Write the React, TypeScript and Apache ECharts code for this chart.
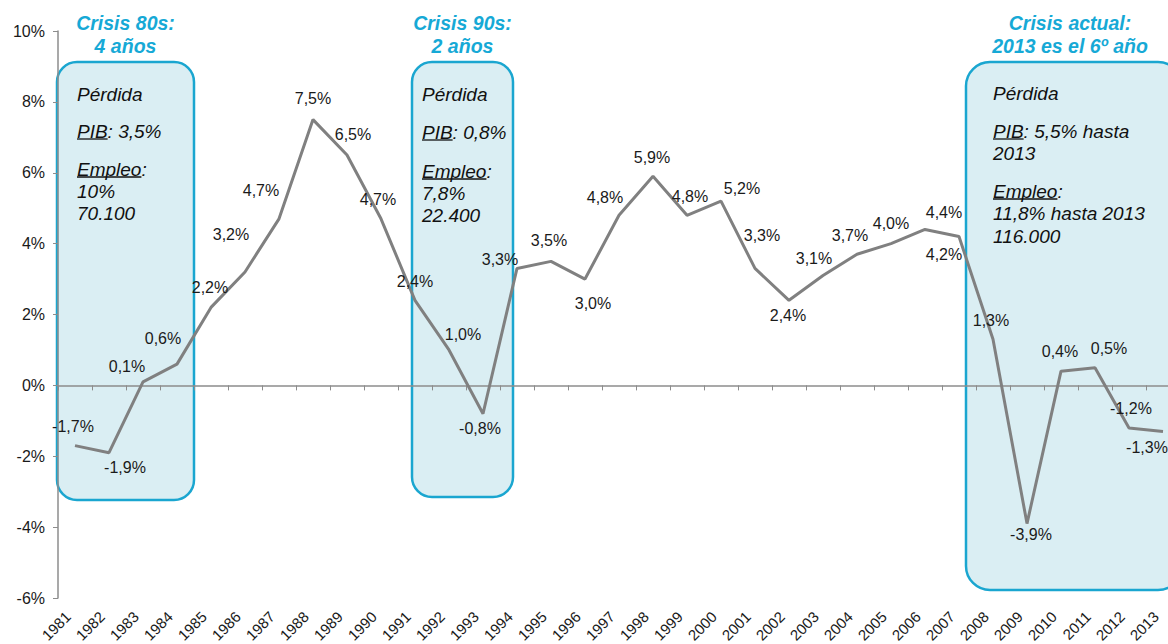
import React, { useEffect, useRef } from "react";
import * as echarts from "echarts";

const years = [
  "1981", "1982", "1983", "1984", "1985", "1986", "1987", "1988", "1989", "1990",
  "1991", "1992", "1993", "1994", "1995", "1996", "1997", "1998", "1999", "2000",
  "2001", "2002", "2003", "2004", "2005", "2006", "2007", "2008", "2009", "2010",
  "2011", "2012", "2013",
];

const gdpGrowth = [
  -1.7, -1.9, 0.1, 0.6, 2.2, 3.2, 4.7, 7.5, 6.5, 4.7,
  2.4, 1.0, -0.8, 3.3, 3.5, 3.0, 4.8, 5.9, 4.8, 5.2,
  3.3, 2.4, 3.1, 3.7, 4.0, 4.4, 4.2, 1.3, -3.9, 0.4,
  0.5, -1.2, -1.3,
];

const yMin = -6;
const yMax = 10;
const yStep = 2;

// label placement (dx, dy) relative to each point
const labelOffsets: [number, number][] = [
  [-2, -19], [16, 15], [-16, -15], [-14, -26], [-1, -20], [-14, -37], [-18, -28], [0, -21], [6, -21], [-3, -19],
  [0, -19], [14, -15], [-3, 15], [-17, -9], [-2, -21], [8, 24], [-14, -18], [-1, -19], [3, -19], [21, -13],
  [7, -33], [-1, 15], [-9, -17], [-7, -19], [0, -20], [19, -17], [-15, 18], [-2, -19], [4, 11], [-1, -20],
  [14, -19], [2, -19], [-16, 16],
];

const crisisTitles = [
  ["Crisis 80s:", "4 años"],
  ["Crisis 90s:", "2 años"],
  ["Crisis actual:", "2013 es el 6º año"],
];

// each line: [underlined part, rest]
const crisisTexts: [string, string][][] = [
  [["", "Pérdida"], ["PIB", ": 3,5%"], ["Empleo", ":"], ["", "10%"], ["", "70.100"]],
  [["", "Pérdida"], ["PIB", ": 0,8%"], ["Empleo", ":"], ["", "7,8%"], ["", "22.400"]],
  [["", "Pérdida"], ["PIB", ": 5,5% hasta"], ["", "2013"], ["Empleo", ":"], ["", "11,8% hasta 2013"], ["", "116.000"]],
];

// layout of the annotation boxes (pixels)
const boxLayout = [
  { x: 57, y: 62, w: 137, h: 438, r: 20, tx: 77, lineY: [94, 131, 169, 191, 213] },
  { x: 412, y: 62, w: 101, h: 435, r: 20, tx: 422, lineY: [94, 132, 171, 193, 215] },
  { x: 966, y: 62, w: 216, h: 528, r: 24, tx: 993, lineY: [93, 131, 153, 191, 213, 236] },
];

const FONT = "'Liberation Sans', Arial, Helvetica, sans-serif";
const BOX_FONT_SIZE = 19;
const CYAN = "#1AA6D0";
const TITLE_CYAN = "#16A9D6";

function measure(text: string, font: string): number {
  const c = document.createElement("canvas");
  const ctx = c.getContext("2d");
  if (!ctx) return text.length * 9;
  ctx.font = font;
  return ctx.measureText(text).width;
}

export default function App() {
  const ref = useRef<HTMLDivElement>(null);

  useEffect(() => {
    if (!ref.current) return;
    const chart = echarts.init(ref.current, undefined, { renderer: "svg" });

    const graphics: any[] = [];
    const boxFont = `italic ${BOX_FONT_SIZE}px ${FONT}`;
    boxLayout.forEach((b, i) => {
      graphics.push({
        type: "rect",
        z: -10,
        shape: { x: b.x, y: b.y, width: b.w, height: b.h, r: b.r },
        style: { fill: "#DAEEF3", stroke: CYAN, lineWidth: 2.5 },
      });
      const cx = i === 2 ? 1070 : b.x + b.w / 2;
      crisisTitles[i].forEach((t, k) => {
        graphics.push({
          type: "text",
          z: 100,
          x: cx,
          y: 23 + k * 23,
          style: {
            text: t,
            fill: TITLE_CYAN,
            font: `italic bold 19.5px ${FONT}`,
            textAlign: "center",
            textVerticalAlign: "middle",
          },
        });
      });
      crisisTexts[i].forEach((ln, k) => {
        const y = b.lineY[k];
        graphics.push({
          type: "text",
          z: 100,
          x: b.tx,
          y,
          style: {
            text: ln[0] + ln[1],
            fill: "#111",
            font: boxFont,
            textAlign: "left",
            textVerticalAlign: "middle",
          },
        });
        if (ln[0]) {
          const w = measure(ln[0], boxFont);
          graphics.push({
            type: "line",
            z: 100,
            shape: { x1: b.tx, y1: y + 8, x2: b.tx + w, y2: y + 8 },
            style: { stroke: "#111", lineWidth: 1.3 },
          });
        }
      });
    });

    chart.setOption({
      animation: false,
      textStyle: { fontFamily: FONT },
      grid: {
        left: 58,
        top: 31,
        width: 1122,
        height: 567,
        containLabel: false,
        outerBoundsMode: "none",
      },
      xAxis: [
        {
          type: "category",
          data: years,
          position: "bottom",
          boundaryGap: true,
          axisLine: { show: false, onZero: false },
          axisTick: { show: false },
          splitLine: { show: false },
          axisLabel: {
            interval: 0,
            rotate: 45,
            margin: 9,
            padding: [0, 10, 0, 0],
            fontSize: 15,
            color: "#1a1a1a",
            fontFamily: FONT,
          },
        },
        {
          type: "category",
          data: years,
          position: "top",
          boundaryGap: true,
          axisLine: { show: true, onZero: true, lineStyle: { color: "#8c8c8c", width: 1.5 } },
          axisTick: { show: true, inside: true, length: 5, interval: 0, lineStyle: { color: "#8c8c8c", width: 1 } },
          axisLabel: { show: false },
          splitLine: { show: false },
        },
      ],
      yAxis: {
        type: "value",
        min: yMin,
        max: yMax,
        interval: yStep,
        axisLine: { show: true, onZero: false, lineStyle: { color: "#8c8c8c", width: 1.5 } },
        axisTick: { show: true, length: 5, lineStyle: { color: "#8c8c8c" } },
        splitLine: { show: false },
        axisLabel: {
          margin: 13,
          fontSize: 16,
          color: "#1a1a1a",
          fontFamily: FONT,
          formatter: (v: number) => `${v}%`,
        },
      },
      graphic: graphics,
      series: [
        {
          type: "line",
          xAxisIndex: 0,
          data: gdpGrowth.map((v, i) => ({ value: v, label: { offset: labelOffsets[i] } })),
          symbol: "circle",
          symbolSize: 2,
          showSymbol: true,
          showAllSymbol: true,
          itemStyle: { color: "rgba(0,0,0,0)", borderWidth: 0 },
          lineStyle: { color: "#808080", width: 3 },
          emphasis: { disabled: true },
          z: 5,
          label: {
            show: true,
            position: "inside",
            fontSize: 16,
            color: "#1a1a1a",
            fontFamily: FONT,
            formatter: (p: any) => `${Number(p.value).toFixed(1).replace(".", ",")}%`,
          },
        },
      ],
    });

    return () => chart.dispose();
  }, []);

  return (
    <div
      style={{
        position: "fixed",
        left: 0,
        top: 0,
        width: 1168,
        height: 644,
        overflow: "hidden",
        background: "#fff",
      }}
    >
      <div ref={ref} style={{ width: 1180, height: 644 }} />
    </div>
  );
}
